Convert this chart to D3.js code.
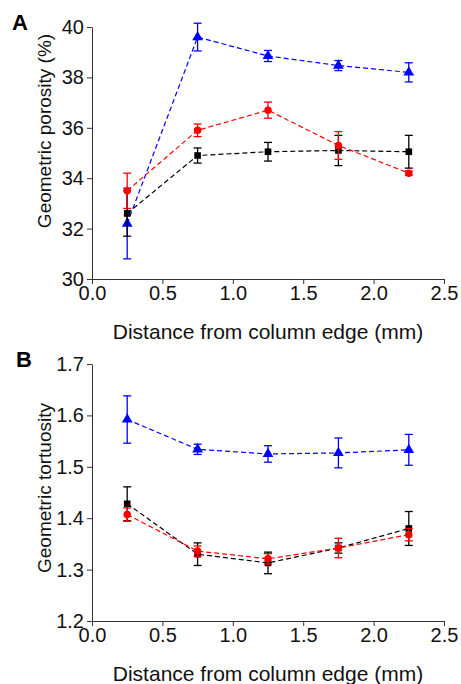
<!DOCTYPE html>
<html>
<head>
<meta charset="utf-8">
<script src="https://cdn.jsdelivr.net/npm/d3@7"></script>
<style>
	body { margin: 0; background: #fff; }
	svg { display: block; font-family: 'Liberation Sans', Arial, sans-serif; }
</style>
</head>
<body>
<div class="svg-container"></div>
<script>
const w = 461;
const h = 684;

// distances (mm)
const distances = [0.25, 0.75, 1.25, 1.75, 2.25];

// panel A: geometric porosity (%)
const porosityBlack = [32.6, 34.9, 35.05, 35.1, 35.05];
const porosityBlackErr = [0.9, 0.3, 0.37, 0.6, 0.65];
const porosityRed = [33.5, 35.9, 36.7, 35.3, 34.2];
const porosityRedErr = [0.7, 0.25, 0.32, 0.55, 0.08];
const porosityBlue = [32.2, 39.6, 38.85, 38.47, 38.2];
const porosityBlueErr = [1.4, 0.55, 0.22, 0.2, 0.38];

// panel B: geometric tortuosity
const tortBlack = [1.428, 1.33, 1.313, 1.342, 1.38];
const tortBlackErr = [0.033, 0.022, 0.021, 0.01, 0.033];
const tortRed = [1.407, 1.336, 1.321, 1.342, 1.368];
const tortRedErr = [0.013, 0.01, 0.01, 0.019, 0.012];
const tortBlue = [1.592, 1.534, 1.525, 1.527, 1.533];
const tortBlueErr = [0.046, 0.01, 0.016, 0.029, 0.03];

const xTicks = [0, 0.5, 1, 1.5, 2, 2.5];
const porosityTicks = [30, 32, 34, 36, 38, 40];
const tortTicks = [1.2, 1.3, 1.4, 1.5, 1.6, 1.7];

const svg = d3
	.select('.svg-container')
	.append('svg')
	.attr('width', w)
	.attr('height', h)
	.style('background-color', '#fff');

const axisColor = '#333';
const tickFont = 20;

function drawPanel(opts) {
	const {top, bottom, yDomain, yTicks, yFormat, yLabel, letter, series} = opts;

	const xScale = d3.scaleLinear().domain([0, 2.5]).range([92, 444]);
	const yScale = d3.scaleLinear().domain(yDomain).range([bottom, top]);

	const g = svg.append('g');

	// axes
	const xAxis = d3
		.axisBottom(xScale)
		.tickValues(xTicks)
		.tickFormat(d3.format('.1f'))
		.tickSize(5)
		.tickSizeOuter(0)
		.tickPadding(2);
	const gx = g.append('g').attr('transform', `translate(0, ${bottom})`).call(xAxis);

	const yAxis = d3
		.axisLeft(yScale)
		.tickValues(yTicks)
		.tickFormat(yFormat)
		.tickSize(5)
		.tickSizeOuter(0)
		.tickPadding(3);
	const gy = g.append('g').attr('transform', `translate(92, 0)`).call(yAxis);

	[gx, gy].forEach(a => {
		a.selectAll('path, line').attr('stroke', axisColor);
		a.selectAll('text')
			.attr('fill', '#111')
			.style('font-size', tickFont + 'px')
			.style('font-family', "'Liberation Sans', Arial, sans-serif");
	});

	g.append('text')
		.attr('x', 268)
		.attr('y', bottom + 60)
		.attr('text-anchor', 'middle')
		.attr('fill', '#111')
		.style('font-size', '21px')
		.text('Distance from column edge (mm)');

	g.append('text')
		.attr('transform', `translate(51, ${opts.labelY}) rotate(-90)`)
		.attr('text-anchor', 'middle')
		.attr('fill', '#111')
		.style('font-size', '19px')
		.text(yLabel);

	g.append('text')
		.attr('x', opts.letterX)
		.attr('y', opts.letterY)
		.attr('fill', '#000')
		.style('font-size', '22px')
		.style('font-weight', 'bold')
		.text(letter);

	const line = d3
		.line()
		.x(d => xScale(d.x))
		.y(d => yScale(d.y));

	series.forEach(s => {
		const pts = distances.map((x, i) => ({x, y: s.values[i], e: s.errs[i]}));
		const sg = g.append('g');

		sg.append('path')
			.datum(pts)
			.attr('d', line)
			.attr('fill', 'none')
			.attr('stroke', s.color)
			.attr('stroke-width', 1.2)
			.attr('stroke-dasharray', '5,3');

		// error bars
		const eb = sg.selectAll('.eb').data(pts).enter().append('g');
		eb.append('line')
			.attr('x1', d => xScale(d.x))
			.attr('x2', d => xScale(d.x))
			.attr('y1', d => yScale(d.y - d.e))
			.attr('y2', d => yScale(d.y + d.e))
			.attr('stroke', s.color)
			.attr('stroke-width', 1.3);
		[-1, 1].forEach(sign => {
			eb.append('line')
				.attr('x1', d => xScale(d.x) - 4)
				.attr('x2', d => xScale(d.x) + 4)
				.attr('y1', d => yScale(d.y + sign * d.e))
				.attr('y2', d => yScale(d.y + sign * d.e))
				.attr('stroke', s.color)
				.attr('stroke-width', 1.3);
		});

		// markers
		sg.selectAll('.pt')
			.data(pts)
			.enter()
			.append('path')
			.attr('transform', d => `translate(${xScale(d.x)}, ${yScale(d.y)})`)
			.attr('d', d3.symbol().type(s.symbol).size(s.size))
			.attr('fill', s.color);
	});
}

drawPanel({
	top: 27,
	bottom: 279,
	yDomain: [30, 40],
	yTicks: porosityTicks,
	yFormat: d3.format('d'),
	yLabel: 'Geometric porosity (%)',
	labelY: 131,
	letter: 'A',
	letterX: 12,
	letterY: 30,
	series: [
		{values: porosityBlue, errs: porosityBlueErr, color: '#0000ff', symbol: d3.symbolTriangle, size: 50},
		{values: porosityBlack, errs: porosityBlackErr, color: '#000', symbol: d3.symbolSquare, size: 44},
		{values: porosityRed, errs: porosityRedErr, color: '#ff0000', symbol: d3.symbolCircle, size: 44},
	],
});

drawPanel({
	top: 364,
	bottom: 621,
	yDomain: [1.2, 1.7],
	yTicks: tortTicks,
	yFormat: d3.format('.1f'),
	yLabel: 'Geometric tortuosity',
	labelY: 488,
	letter: 'B',
	letterX: 16,
	letterY: 367,
	series: [
		{values: tortBlue, errs: tortBlueErr, color: '#0000ff', symbol: d3.symbolTriangle, size: 50},
		{values: tortBlack, errs: tortBlackErr, color: '#000', symbol: d3.symbolSquare, size: 44},
		{values: tortRed, errs: tortRedErr, color: '#ff0000', symbol: d3.symbolCircle, size: 44},
	],
});
</script>
</body>
</html>
